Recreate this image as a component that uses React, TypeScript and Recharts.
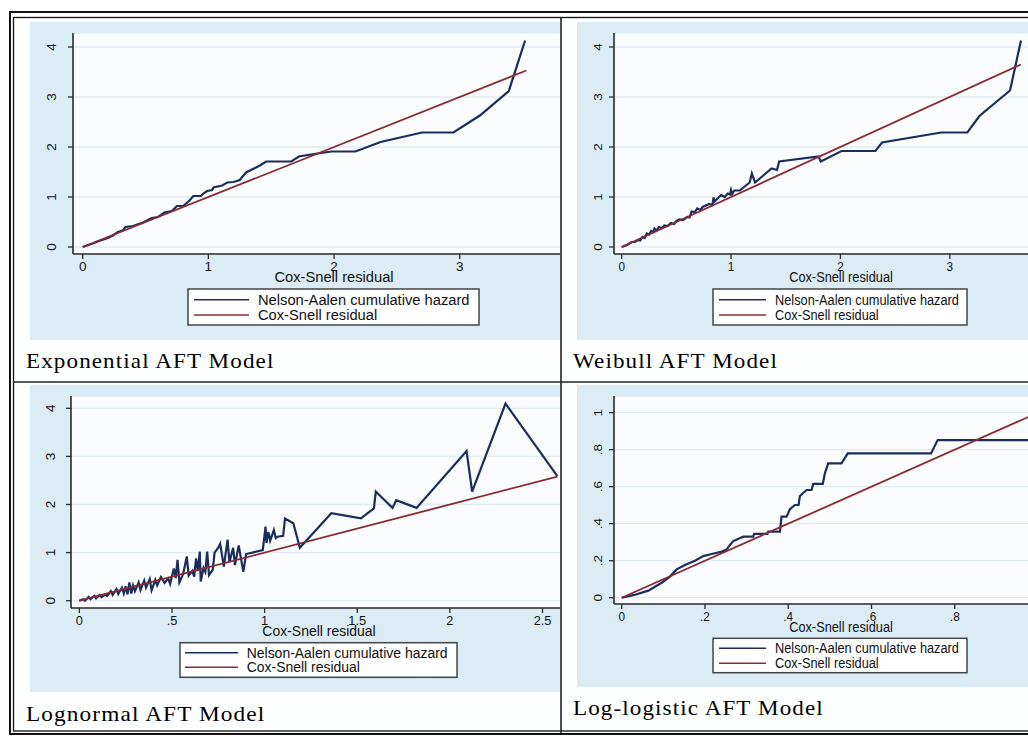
import React from "react";
import { LineChart, Line, XAxis, YAxis, CartesianGrid } from "recharts";

type Pt = [number, number];

// Exponential AFT model
const expHazard: Pt[] = [
  [0, 0], [0.08, 0.07], [0.13, 0.12], [0.2, 0.18], [0.24, 0.23], [0.28, 0.3],
  [0.32, 0.33], [0.34, 0.4], [0.4, 0.42], [0.48, 0.49], [0.55, 0.58], [0.6, 0.6],
  [0.65, 0.69], [0.71, 0.72], [0.75, 0.82], [0.8, 0.82], [0.85, 0.93], [0.88, 1.02],
  [0.94, 1.02], [0.96, 1.07], [0.99, 1.12], [1.03, 1.14], [1.04, 1.19], [1.11, 1.23],
  [1.15, 1.29], [1.2, 1.3], [1.25, 1.34], [1.3, 1.49], [1.41, 1.63], [1.46, 1.71],
  [1.66, 1.71], [1.72, 1.81], [1.84, 1.86], [1.98, 1.91], [2.17, 1.91], [2.37, 2.1],
  [2.7, 2.29], [2.95, 2.29], [3.16, 2.63], [3.39, 3.12], [3.52, 4.13],
];
const expResidual: Pt[] = [[0, 0], [3.53, 3.53]];

// Weibull AFT model
const weiHazard: Pt[] = [
  [0, 0], [0.05, 0.04], [0.09, 0.1], [0.12, 0.1], [0.15, 0.14], [0.17, 0.13],
  [0.19, 0.2], [0.21, 0.18], [0.23, 0.27], [0.25, 0.25], [0.27, 0.32], [0.29, 0.3],
  [0.3, 0.37], [0.32, 0.33], [0.34, 0.4], [0.37, 0.38], [0.39, 0.43], [0.42, 0.42],
  [0.45, 0.48], [0.48, 0.46], [0.5, 0.52], [0.53, 0.55], [0.56, 0.54], [0.6, 0.6],
  [0.62, 0.59], [0.64, 0.71], [0.67, 0.7], [0.69, 0.77], [0.72, 0.74], [0.74, 0.8],
  [0.8, 0.86], [0.83, 0.84], [0.84, 0.99], [0.85, 0.91], [0.91, 1.04], [0.94, 1.0],
  [0.97, 1.07], [0.99, 1.05], [1.0, 1.14], [1.01, 1.06], [1.03, 1.13], [1.08, 1.13],
  [1.13, 1.22], [1.17, 1.29], [1.19, 1.47], [1.22, 1.29], [1.37, 1.57], [1.42, 1.54],
  [1.44, 1.71], [1.8, 1.81], [1.82, 1.71], [2.01, 1.92], [2.32, 1.92], [2.38, 2.09],
  [2.92, 2.29], [3.16, 2.29], [3.27, 2.62], [3.55, 3.13], [3.65, 4.13],
];
const weiResidual: Pt[] = [[0, 0], [3.65, 3.65]];

// Lognormal AFT model
const lnHazard: Pt[] = [
  [0, 0], [0.02, 0.03], [0.03, 0.0], [0.05, 0.08], [0.06, 0.03], [0.08, 0.1],
  [0.09, 0.05], [0.11, 0.12], [0.12, 0.07], [0.14, 0.13], [0.15, 0.1], [0.17, 0.2],
  [0.18, 0.12], [0.2, 0.24], [0.21, 0.14], [0.23, 0.27], [0.24, 0.15], [0.25, 0.3],
  [0.26, 0.13], [0.27, 0.38], [0.28, 0.15], [0.29, 0.32], [0.3, 0.2], [0.32, 0.38],
  [0.33, 0.22], [0.35, 0.42], [0.36, 0.27], [0.38, 0.45], [0.39, 0.22], [0.41, 0.43],
  [0.42, 0.32], [0.44, 0.49], [0.46, 0.37], [0.48, 0.46], [0.49, 0.35], [0.51, 0.67],
  [0.52, 0.47], [0.53, 0.85], [0.54, 0.38], [0.56, 0.55], [0.58, 0.92], [0.59, 0.52],
  [0.61, 0.62], [0.62, 0.5], [0.63, 0.88], [0.64, 0.62], [0.65, 1.02], [0.655, 0.4],
  [0.67, 0.68], [0.68, 0.6], [0.69, 1.02], [0.7, 0.53], [0.72, 0.64], [0.73, 1.0],
  [0.75, 1.1], [0.76, 1.18], [0.78, 0.71], [0.8, 1.27], [0.81, 0.8], [0.83, 1.1],
  [0.84, 0.74], [0.86, 1.15], [0.885, 0.6], [0.9, 0.97], [0.99, 1.05], [1.005, 1.54],
  [1.01, 1.2], [1.02, 1.43], [1.03, 1.25], [1.05, 1.47], [1.06, 1.3], [1.07, 1.33],
  [1.1, 1.35], [1.11, 1.71], [1.155, 1.61], [1.19, 1.1], [1.36, 1.82], [1.52, 1.71],
  [1.59, 1.92], [1.6, 2.27], [1.69, 1.93], [1.71, 2.09], [1.82, 1.93], [2.09, 3.11],
  [2.12, 2.27], [2.3, 4.1], [2.58, 2.59],
];
const lnResidual: Pt[] = [[0, 0], [2.58, 2.58]];

// Log-logistic AFT model
const llHazard: Pt[] = [
  [0, 0], [0.03, 0.015], [0.064, 0.038], [0.096, 0.081], [0.116, 0.114], [0.132, 0.153],
  [0.152, 0.177], [0.176, 0.2], [0.196, 0.225], [0.216, 0.236], [0.24, 0.249], [0.252, 0.26],
  [0.26, 0.285], [0.268, 0.306], [0.292, 0.33], [0.316, 0.33], [0.318, 0.345], [0.35, 0.345],
  [0.352, 0.357], [0.38, 0.357], [0.384, 0.438], [0.396, 0.438], [0.404, 0.478], [0.416, 0.501],
  [0.425, 0.501], [0.428, 0.55], [0.444, 0.582], [0.456, 0.582], [0.46, 0.615], [0.483, 0.615],
  [0.488, 0.672], [0.496, 0.726], [0.528, 0.726], [0.543, 0.78], [0.743, 0.78], [0.759, 0.852],
  [1.0, 0.852],
];
const llResidual: Pt[] = [[0, 0], [1.02, 1.02]];

const ticksUnit = [0, 1, 2, 3];
const ticksHazard = [0, 1, 2, 3, 4];
const ticksHalf = [0, 0.5, 1, 1.5, 2, 2.5];
const ticksFifth = [0, 0.2, 0.4, 0.6, 0.8];
const ticksFifthY = [0, 0.2, 0.4, 0.6, 0.8, 1];

const titles = [
  "Exponential AFT Model",
  "Weibull AFT Model",
  "Lognormal AFT Model",
  "Log-logistic AFT Model",
];
const legendLabels = ["Nelson-Aalen cumulative hazard", "Cox-Snell residual"];
const axisTitle = "Cox-Snell residual";

const NAVY = "#1b2d5c";
const MAROON = "#8a2a33";
const INK = "#2a2a2a";
const REGION = "#dcecf5";
const PLOTBG = "#fafcfd";
const GRID = "#e1ecf2";
const SANS = "'Liberation Sans', Arial, sans-serif";
const SERIF = "'Liberation Serif', 'Times New Roman', serif";
const YW = 45;
const XH = 30;

const fmt = (v: number) => {
  const s = String(v);
  return s.startsWith("0.") ? s.slice(1) : s;
};
const rows = (pts: Pt[]) => pts.map(([x, y]) => ({ x, y }));

const XTick = (props: any) => {
  const { x, y, payload, sx } = props;
  return (
    <text transform={`translate(${x},${y}) scale(${sx},1)`} textAnchor="middle" dy="0.71em"
      fontSize={13.5} fontFamily={SANS} fill="#111">
      {fmt(payload.value)}
    </text>
  );
};

const YTick = (props: any) => {
  const { x, y, payload, sx } = props;
  return (
    <text transform={`translate(${x},${y}) scale(${sx},1) rotate(-90)`} textAnchor="middle"
      fontSize={13.5} fontFamily={SANS} fill="#111">
      {fmt(payload.value)}
    </text>
  );
};

const panels = [
  {
    hazard: expHazard, residual: expResidual, title: titles[0],
    cell: { x: 14, y: 18, w: 546, h: 363 }, region: { x: 30, y: 22, h: 318 },
    plot: { x: 73, y: 33, w: 522, h: 221 },
    xDomain: [-0.077, 4.076], yDomain: [-0.14, 4.28], xTicks: ticksUnit, yTicks: ticksHazard,
    sx: 1, yTickMargin: 12, xTickMargin: 2, axisTitle: { cx: 334, y: 282 },
    titlePos: { x: 26, y: 368 }, titleSx: 1.1,
    legend: { x: 188, y: 289, w: 291, h: 36, l1: 194, l2: 249, tx: 258, y1: 299.7, y2: 315 },
  },
  {
    hazard: weiHazard, residual: weiResidual, title: titles[1],
    cell: { x: 562, y: 18, w: 466, h: 363 }, region: { x: 577, y: 22, h: 318 },
    plot: { x: 614, y: 33, w: 454, h: 221 },
    xDomain: [-0.07, 4.08], yDomain: [-0.14, 4.28], xTicks: ticksUnit, yTicks: ticksHazard,
    sx: 0.87, yTickMargin: 7, xTickMargin: 2, axisTitle: { cx: 841, y: 281.5 },
    titlePos: { x: 573, y: 368 }, titleSx: 1.1,
    legend: { x: 713, y: 289, w: 254, h: 36, l1: 719, l2: 766, tx: 775, y1: 299.7, y2: 315 },
  },
  {
    hazard: lnHazard, residual: lnResidual, title: titles[2],
    cell: { x: 14, y: 383, w: 546, h: 349 }, region: { x: 30, y: 385, h: 307 },
    plot: { x: 71, y: 396, w: 496, h: 212 },
    xDomain: [-0.045, 2.632], yDomain: [-0.152, 4.256], xTicks: ticksHalf, yTicks: ticksHazard,
    sx: 0.95, yTickMargin: 11, xTickMargin: 2, axisTitle: { cx: 319, y: 635.5 },
    titlePos: { x: 26, y: 720.7 }, titleSx: 1.11,
    legend: { x: 180, y: 642.7, w: 277, h: 34.6, l1: 185, l2: 238, tx: 246.7, y1: 652.7, y2: 667.3 },
  },
  {
    hazard: llHazard, residual: llResidual, title: titles[3],
    cell: { x: 562, y: 383, w: 466, h: 349 }, region: { x: 577, y: 385, h: 302 },
    plot: { x: 614, y: 396, w: 454, h: 208 },
    xDomain: [-0.0185, 1.072], yDomain: [-0.034, 1.09], xTicks: ticksFifth, yTicks: ticksFifthY,
    sx: 0.87, yTickMargin: 7, xTickMargin: 2, axisTitle: { cx: 841, y: 631.5 },
    titlePos: { x: 573, y: 715 }, titleSx: 1.1,
    legend: { x: 713, y: 638.3, w: 254, h: 34.4, l1: 719, l2: 766, tx: 775, y1: 648.3, y2: 663.3 },
  },
];

const Panel = ({ p }: { p: any }) => {
  const { cell, region, plot } = p;
  return (
    <div style={{ position: "absolute", left: cell.x, top: cell.y, width: cell.w, height: cell.h, overflow: "hidden", background: "#fdfefe" }}>
      <div style={{ position: "absolute", left: region.x - cell.x, top: region.y - cell.y, width: 700, height: region.h, background: REGION }} />
      <div style={{ position: "absolute", left: plot.x - YW - cell.x, top: plot.y - cell.y }}>
        <LineChart width={YW + plot.w} height={plot.h + XH} margin={{ top: 0, right: 0, bottom: 0, left: 0 }}>
          <CartesianGrid vertical={false} stroke={GRID} strokeWidth={1.3} fill={PLOTBG} fillOpacity={1} />
          <XAxis type="number" dataKey="x" domain={p.xDomain} ticks={p.xTicks} allowDataOverflow
            height={XH} tickSize={5} tickMargin={p.xTickMargin} interval={0}
            axisLine={{ stroke: INK, strokeWidth: 1.6 }} tickLine={{ stroke: INK, strokeWidth: 1.3 }}
            tick={<XTick sx={p.sx} />} />
          <YAxis type="number" domain={p.yDomain} ticks={p.yTicks} allowDataOverflow
            width={YW} tickSize={5} tickMargin={p.yTickMargin} interval={0}
            axisLine={{ stroke: INK, strokeWidth: 1.6 }} tickLine={{ stroke: INK, strokeWidth: 1.3 }}
            tick={<YTick sx={p.sx} />} />
          <Line data={rows(p.hazard)} dataKey="y" type="linear" stroke={NAVY} strokeWidth={2.2}
            dot={false} isAnimationActive={false} />
          <Line data={rows(p.residual)} dataKey="y" type="linear" stroke={MAROON} strokeWidth={1.8}
            dot={false} isAnimationActive={false} />
        </LineChart>
      </div>
    </div>
  );
};

const Overlay = () => (
  <svg width={1028} height={737} style={{ position: "absolute", left: 0, top: 0, pointerEvents: "none" }}>
    <rect x={10} y={12} width={1040} height={722} fill="none" stroke="#111" strokeWidth={2} />
    <rect x={13.5} y={17.5} width={1040} height={713.5} fill="none" stroke="#111" strokeWidth={1.3} />
    <line x1={561} y1={17} x2={561} y2={733} stroke="#222" strokeWidth={1.6} />
    <line x1={13} y1={382} x2={1028} y2={382} stroke="#222" strokeWidth={1.6} />
    {panels.map((p, i) => {
      const lg = p.legend;
      return (
        <g key={i}>
          <text transform={`translate(${p.axisTitle.cx},${p.axisTitle.y}) scale(${p.sx},1)`} textAnchor="middle"
            fontSize={14.7} fontFamily={SANS} fill="#111">{axisTitle}</text>
          <rect x={lg.x} y={lg.y} width={lg.w} height={lg.h} fill="#fff" stroke="#444" strokeWidth={1.5} />
          <line x1={lg.l1} y1={lg.y1} x2={lg.l2} y2={lg.y1} stroke={NAVY} strokeWidth={1.6} />
          <line x1={lg.l1} y1={lg.y2} x2={lg.l2} y2={lg.y2} stroke={MAROON} strokeWidth={1.6} />
          <text transform={`translate(${lg.tx},${lg.y1 + 5}) scale(${p.sx},1)`} fontSize={14.7} fontFamily={SANS} fill="#111">{legendLabels[0]}</text>
          <text transform={`translate(${lg.tx},${lg.y2 + 5}) scale(${p.sx},1)`} fontSize={14.7} fontFamily={SANS} fill="#111">{legendLabels[1]}</text>
          <text transform={`translate(${p.titlePos.x},${p.titlePos.y}) scale(${p.titleSx},1)`} fontSize={21}
            letterSpacing={1} fontFamily={SERIF} fill="#000">{p.title}</text>
        </g>
      );
    })}
  </svg>
);

export default function App() {
  return (
    <div style={{ position: "absolute", left: 0, top: 0, width: 1028, height: 737, overflow: "hidden", background: "#fff" }}>
      {panels.map((p, i) => (
        <Panel key={i} p={p} />
      ))}
      <Overlay />
    </div>
  );
}
